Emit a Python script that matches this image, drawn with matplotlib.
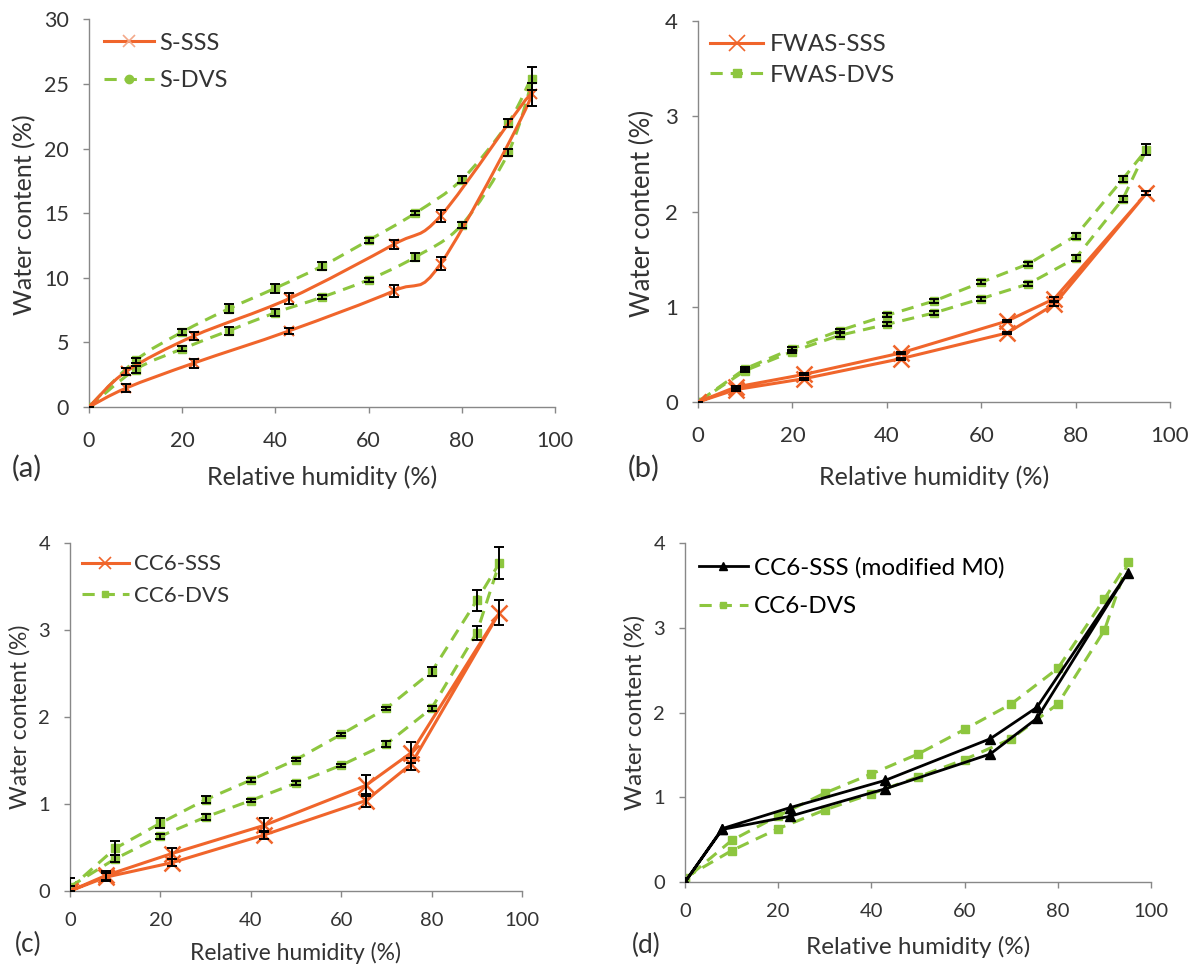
import matplotlib
matplotlib.use("Agg")
import matplotlib.pyplot as plt
from matplotlib.path import Path
from matplotlib.patches import PathPatch
from matplotlib.lines import Line2D

plt.rcParams['font.family'] = ['Lato', 'DejaVu Sans']

ORANGE = '#f0652b'
GREEN = '#8dc63f'
GREY = '#888888'
TXT = '#333333'
DASH = (0, (4, 2.6))

# relative humidity steps (sorption up, then desorption down)
rh_sss = [0, 8, 22.5, 43, 65.5, 75.5, 95, 75.5, 65.5, 43, 22.5, 8, 0]
rh_dvs = [0, 10, 20, 30, 40, 50, 60, 70, 80, 90, 95, 90, 80, 70, 60, 50, 40, 30, 20, 10, 0]

# (a) S
a_sss = [0, 1.47, 3.4, 5.9, 9.0, 11.1, 24.2, 14.8, 12.6, 8.4, 5.5, 2.75, 0]
a_sss_err = [0, 0.3, 0.35, 0.25, 0.45, 0.5, 0.9, 0.45, 0.35, 0.4, 0.3, 0.25, 0]
a_dvs = [0, 2.9, 4.5, 5.9, 7.3, 8.5, 9.85, 11.6, 14.1, 19.7, 25.4,
         22.0, 17.6, 15.0, 12.9, 10.9, 9.2, 7.6, 5.8, 3.6, 0]
a_dvs_err = [0, 0.25, 0.2, 0.3, 0.25, 0.15, 0.15, 0.3, 0.25, 0.25, 0.9,
             0.3, 0.3, 0.15, 0.2, 0.3, 0.35, 0.35, 0.25, 0.2, 0]

# (b) FWAS
b_sss = [0, 0.13, 0.245, 0.455, 0.725, 1.025, 2.19, 1.085, 0.85, 0.515, 0.29, 0.157, 0]
b_sss_err = [0, 0.01, 0.01, 0.01, 0.01, 0.02, 0.02, 0.02, 0.01, 0.01, 0.01, 0.01, 0]
b_dvs = [0, 0.33, 0.53, 0.70, 0.815, 0.935, 1.085, 1.24, 1.51, 2.13, 2.65,
         2.34, 1.745, 1.45, 1.256, 1.06, 0.91, 0.75, 0.56, 0.35, 0]
b_dvs_err = [0, 0.02, 0.02, 0.02, 0.02, 0.02, 0.02, 0.02, 0.03, 0.03, 0.06,
             0.03, 0.03, 0.02, 0.02, 0.02, 0.02, 0.02, 0.02, 0.02, 0]

# (c) CC6
c_sss = [0, 0.16, 0.325, 0.645, 1.04, 1.46, 3.2, 1.59, 1.215, 0.755, 0.43, 0.18, 0]
c_sss_err = [0, 0.05, 0.04, 0.05, 0.07, 0.07, 0.14, 0.12, 0.12, 0.08, 0.06, 0.05, 0]
c_dvs = [0.05, 0.37, 0.63, 0.85, 1.04, 1.24, 1.445, 1.69, 2.10, 2.97, 3.77,
         3.34, 2.52, 2.10, 1.80, 1.51, 1.275, 1.05, 0.78, 0.49, 0.03]
c_dvs_err = [0.1, 0.04, 0.03, 0.03, 0.02, 0.02, 0.02, 0.03, 0.03, 0.08, 0.18,
             0.12, 0.05, 0.02, 0.02, 0.02, 0.02, 0.04, 0.06, 0.08, 0.03]

# (d) CC6 modified M0
d_sss = [0, 0.62, 0.775, 1.10, 1.51, 1.93, 3.65, 2.06, 1.69, 1.20, 0.877, 0.63, 0]


def smooth_path(x, y, ax, **kw):
    # Excel style smoothed line: cubic bezier between the data points
    n = len(x)
    verts = [(x[0], y[0])]
    codes = [Path.MOVETO]
    for i in range(n - 1):
        x0, y0 = (x[i - 1], y[i - 1]) if i > 0 else (x[i], y[i])
        x3, y3 = (x[i + 2], y[i + 2]) if i + 2 < n else (x[i + 1], y[i + 1])
        c1 = (x[i] + (x[i + 1] - x0) / 6, y[i] + (y[i + 1] - y0) / 6)
        c2 = (x[i + 1] - (x3 - x[i]) / 6, y[i + 1] - (y3 - y[i]) / 6)
        verts += [c1, c2, (x[i + 1], y[i + 1])]
        codes += [Path.CURVE4] * 3
    ax.add_patch(PathPatch(Path(verts, codes), fill=False, **kw))


def style_ax(ax, ymax, ystep, fs, xpad):
    ax.set_xlim(0, 100)
    ax.set_ylim(0, ymax)
    ax.set_xticks(range(0, 101, 20))
    ax.set_yticks([i * ystep for i in range(int(round(ymax / ystep)) + 1)])
    for s in ['top', 'right']:
        ax.spines[s].set_visible(False)
    for s in ['left', 'bottom']:
        ax.spines[s].set_color(GREY)
        ax.spines[s].set_linewidth(1.0)
    ax.tick_params(direction='out', length=4.3, width=1, color=GREY,
                   labelsize=fs, labelcolor=TXT)
    ax.tick_params(axis='x', pad=xpad)
    ax.tick_params(axis='y', pad=10)


W, H = 1204, 968
fig = plt.figure(figsize=(12.04, 9.68), dpi=100)


def px_axes(x0, x1, y0, y1):
    # plot-area corners in pixels of the 1204x968 figure
    return fig.add_axes([x0 / W, 1 - y0 / H, (x1 - x0) / W, (y0 - y1) / H])


def px_legend(ax, handles, names, left, ymid, fs, hl, sp, color=TXT):
    ax.legend(handles, names, loc='center left', bbox_to_anchor=(left / W, 1 - ymid / H),
              bbox_transform=fig.transFigure, frameon=False, fontsize=fs,
              handlelength=hl, handletextpad=0.25, labelspacing=sp,
              borderpad=0, borderaxespad=0, labelcolor=color)


eb = dict(ecolor='black', elinewidth=1.4, capsize=3.5, capthick=1.4, fmt='none', zorder=4)

# ---- (a)
ax = px_axes(89, 555, 407, 19.3)
style_ax(ax, 30, 5, 15.5, 13)
smooth_path(rh_dvs, a_dvs, ax, edgecolor=GREEN, lw=2.2, linestyle=DASH, zorder=2)
ax.plot(rh_dvs, a_dvs, ls='none', marker='s', ms=6, color=GREEN, zorder=3)
ax.errorbar(rh_dvs, a_dvs, yerr=a_dvs_err, **eb)
smooth_path(rh_sss, a_sss, ax, edgecolor=ORANGE, lw=2.2, zorder=3)
ax.plot(rh_sss, a_sss, ls='none', marker='x', ms=7, mew=1.5, color=ORANGE, zorder=3)
ax.errorbar(rh_sss, a_sss, yerr=a_sss_err, **eb)
h1 = Line2D([], [], color=ORANGE, lw=2.2, marker='x', ms=9, mew=1.2, mec='#f3a98a')
h2 = Line2D([], [], color=GREEN, lw=2.2, ls=DASH, marker='o', ms=6)
px_legend(ax, [h1, h2], ['S-SSS', 'S-DVS'], 104, 62, 17, 2.1, 0.7)

# ---- (b)
ax = px_axes(698, 1170, 402, 21)
style_ax(ax, 4, 1, 16, 13)
ax.plot(rh_dvs, b_dvs, color=GREEN, lw=2.2, ls=DASH, marker='s', ms=6, zorder=2)
ax.errorbar(rh_dvs, b_dvs, yerr=b_dvs_err, **eb)
ax.plot(rh_sss, b_sss, color=ORANGE, lw=2.2, marker='x', ms=11, mew=1.8, zorder=3)
ax.errorbar(rh_sss, b_sss, yerr=b_sss_err, **eb)
h1 = Line2D([], [], color=ORANGE, lw=2.2, marker='x', ms=11, mew=1.2)
h2 = Line2D([], [], color=GREEN, lw=2.2, ls=DASH, marker='s', ms=6)
px_legend(ax, [h1, h2], ['FWAS-SSS', 'FWAS-DVS'], 710, 60, 17.5, 2.2, 0.4)

# ---- (c)
ax = px_axes(70, 522, 891, 543)
style_ax(ax, 4, 1, 14.5, 10.5)
ax.plot(rh_dvs, c_dvs, color=GREEN, lw=2.2, ls=DASH, marker='s', ms=6, zorder=2)
ax.errorbar(rh_dvs, c_dvs, yerr=c_dvs_err, **eb)
ax.plot(rh_sss, c_sss, color=ORANGE, lw=2.2, marker='x', ms=11, mew=1.8, zorder=3)
ax.errorbar(rh_sss, c_sss, yerr=c_sss_err, **eb)
h1 = Line2D([], [], color=ORANGE, lw=2.2, marker='x', ms=9, mew=1.2)
h2 = Line2D([], [], color=GREEN, lw=2.2, ls=DASH, marker='s', ms=5)
px_legend(ax, [h1, h2], ['CC6-SSS', 'CC6-DVS'], 82, 580, 16, 2.1, 0.5)

# ---- (d)
ax = px_axes(685, 1151, 882, 543)
style_ax(ax, 4, 1, 14.5, 10.5)
ax.plot(rh_dvs, c_dvs, color=GREEN, lw=2.2, ls=DASH, marker='s', ms=6, zorder=2)
ax.plot(rh_sss, d_sss, color='black', lw=2.0, marker='^', ms=7, zorder=3)
h1 = Line2D([], [], color='black', lw=2.0, marker='^', ms=6)
h2 = Line2D([], [], color=GREEN, lw=2.2, ls=DASH, marker='s', ms=5)
px_legend(ax, [h1, h2], ['CC6-SSS (modified M0)', 'CC6-DVS'], 699, 587, 17.5, 2.0, 0.75,
          color='black')

# axis titles and panel letters, placed like the original figure
labels = [
    ('Relative humidity (%)', 322, 477, 0, 18),
    ('Relative humidity (%)', 934, 477, 0, 18),
    ('Relative humidity (%)', 296, 953, 0, 16.5),
    ('Relative humidity (%)', 918, 947, 0, 17.5),
    ('Water content (%)', 25, 215, 90, 18),
    ('Water content (%)', 642, 213, 90, 18.5),
    ('Water content (%)', 20, 717, 90, 16.5),
    ('Water content (%)', 635, 712, 90, 17.5),
]
for t, x, y, r, fs in labels:
    fig.text(x / W, 1 - y / H, t, ha='center', va='center', rotation=r,
             fontsize=fs, color=TXT)
for t, x, y, fs in [('(a)', 27, 468, 21), ('(b)', 644, 468, 21),
                    ('(c)', 28, 944, 19), ('(d)', 646, 945, 19)]:
    fig.text(x / W, 1 - y / H, t, ha='center', va='center', fontsize=fs, color=TXT)

fig.savefig('out.png', dpi=100)
